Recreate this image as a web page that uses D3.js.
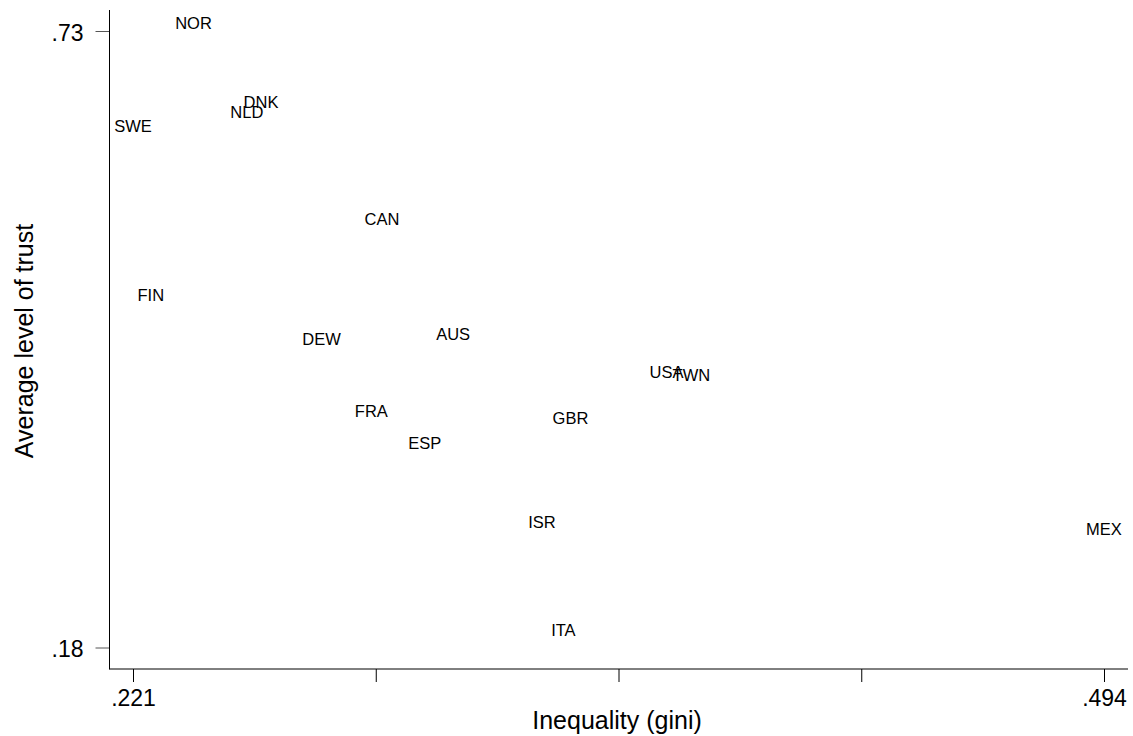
<!DOCTYPE html>
<html>
  <head>
    <script src="https://d3js.org/d3.v7.min.js"></script>
  </head>

    <style type="text/css">
      body { margin: 0; background: #fff; }
      svg { display: block; font-family: "Liberation Sans", Arial, sans-serif; }
      .lbl { font-size: 16.5px; fill: #000; }
      .tick text { font-size: 23px; fill: #000; }
      .title { font-size: 25px; fill: #000; }
    </style>

  <body>
    <div id="chart"></div>

  <script type="text/javascript">

    // country codes and values
    var countries = ["NOR", "DNK", "NLD", "SWE", "CAN", "FIN", "DEW", "AUS", "FRA", "ESP", "USA", "TWN", "GBR", "ISR", "ITA", "MEX"];
    var gini  = [0.238, 0.257, 0.253, 0.221, 0.291, 0.226, 0.274, 0.311, 0.288, 0.303, 0.371, 0.378, 0.344, 0.336, 0.342, 0.494];
    var trust = [0.737, 0.667, 0.658, 0.645, 0.562, 0.494, 0.455, 0.460, 0.391, 0.362, 0.426, 0.423, 0.385, 0.292, 0.196, 0.286];

    var xTicks = [0.221, 0.28925, 0.3575, 0.42575, 0.494];
    var xTickLabels = [".221", "", "", "", ".494"];
    var yTicks = [0.18, 0.73];
    var yTickLabels = [".18", ".73"];

    var width = 1133;
    var height = 736;

    var svg = d3.select("#chart")
      .append("svg")
        .attr("width", width)
        .attr("height", height);

    var x = d3.scaleLinear()
        .domain([0.221, 0.494])
        .range([133, 1104]);

    var y = d3.scaleLinear()
        .domain([0.18, 0.73])
        .range([647.5, 31]);

    // y axis
    var yAxis = svg.append("g")
        .attr("transform", "translate(109.5,0)")
        .call(d3.axisLeft(y)
          .tickValues(yTicks)
          .tickSize(14)
          .tickPadding(12)
          .tickFormat(function(d, i) { return yTickLabels[i]; }));
    yAxis.select(".domain").remove();
    yAxis.selectAll(".tick line").attr("stroke", "#555");
    yAxis.selectAll(".tick text").attr("dy", "0.4em");
    svg.append("line")
        .attr("x1", 109.5).attr("x2", 109.5)
        .attr("y1", 10).attr("y2", 669.5)
        .attr("stroke", "#000");

    // x axis
    var xAxis = svg.append("g")
        .attr("transform", "translate(0,669)")
        .call(d3.axisBottom(x)
          .tickValues(xTicks)
          .tickSize(13)
          .tickPadding(6)
          .tickFormat(function(d, i) { return xTickLabels[i]; }));
    xAxis.select(".domain").remove();
    xAxis.selectAll(".tick line").attr("stroke", "#000");
    xAxis.selectAll(".tick text").attr("dy", "0.8em");
    svg.append("line")
        .attr("x1", 109.5).attr("x2", 1128)
        .attr("y1", 669).attr("y2", 669)
        .attr("stroke", "#000");

    // titles
    svg.append("text")
        .attr("class", "title")
        .attr("x", 617)
        .attr("y", 729)
        .attr("text-anchor", "middle")
        .text("Inequality (gini)");

    svg.append("text")
        .attr("class", "title")
        .attr("transform", "translate(33,341) rotate(-90)")
        .attr("text-anchor", "middle")
        .text("Average level of trust");

    // marker labels, centred on each point
    svg.append("g")
      .selectAll("text")
      .data(countries)
      .enter()
      .append("text")
        .attr("class", "lbl")
        .attr("x", function(d, i) { return x(gini[i]); })
        .attr("y", function(d, i) { return y(trust[i]); })
        .attr("dy", "0.36em")
        .attr("text-anchor", "middle")
        .text(function(d) { return d; });

  </script>
  </body>
</html>
